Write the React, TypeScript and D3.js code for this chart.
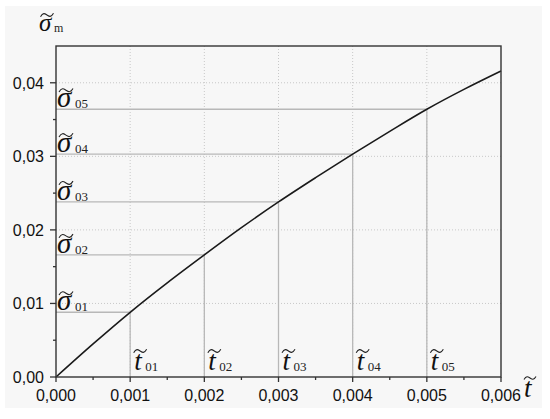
import React from "react";
import * as d3 from "d3";

const tValues = [0, 0.0005, 0.001, 0.0015, 0.002, 0.0025, 0.003, 0.0035, 0.004, 0.0045, 0.005, 0.0055, 0.006];
const sigmaValues = [0, 0.0045, 0.0088, 0.0128, 0.0166, 0.0203, 0.0238, 0.0271, 0.0303, 0.0334, 0.0364, 0.0391, 0.0416];
const refT = [0.001, 0.002, 0.003, 0.004, 0.005];
const refSigma = [0.0088, 0.0166, 0.0238, 0.0303, 0.0364];
const refSubs = ["01", "02", "03", "04", "05"];
const xTicks = [0, 0.001, 0.002, 0.003, 0.004, 0.005, 0.006];
const yTicks = [0, 0.01, 0.02, 0.03, 0.04];
const xMinor = [0.0005, 0.0015, 0.0025, 0.0035, 0.0045, 0.0055];
const yMinor = [0.005, 0.015, 0.025, 0.035];

const W = 550, H = 419;
const X0 = 56, X1 = 501, Y0 = 377, Y1 = 46;

const serif = "Liberation Serif";
const sans = "Liberation Sans";

function tilde(cx: number, cy: number, w: number) {
  const h = w * 0.16;
  const x0 = cx - w / 2;
  return `M${x0},${cy + h * 0.8} C${x0 + w * 0.2},${cy - h * 1.4} ${x0 + w * 0.35},${cy - h * 0.6} ${cx},${cy} S${x0 + w * 0.8},${cy + h * 1.4} ${x0 + w},${cy - h * 0.8}`;
}

function Sym({ x, y, ch, sub, size, subSize, tw, tx, ty, subDx }: { x: number; y: number; ch: string; sub: string; size: number; subSize: number; tw: number; tx: number; ty: number; subDx: number }) {
  return (
    <g>
      <text x={x} y={y} fontFamily={serif} fontStyle="italic" fontSize={size} fill="#111">{ch}</text>
      <path d={tilde(x + tx, y - ty, tw)} fill="none" stroke="#222" strokeWidth={1.1} />
      {sub ? <text x={x + subDx} y={y + 1} fontFamily={serif} fontSize={subSize} fill="#222">{sub}</text> : null}
    </g>
  );
}

export default function App() {
  const x = d3.scaleLinear().domain([0, 0.006]).range([X0, X1]);
  const y = d3.scaleLinear().domain([0, 0.045]).range([Y0, Y1]);
  const line = d3.line<number>().x((d, i) => x(tValues[i])).y((d) => y(d)).curve(d3.curveMonotoneX);
  const fmt = (v: number, p: number) => v.toFixed(p).replace(".", ",");

  return (
    <svg width={W} height={H} style={{ position: "absolute", left: 0, top: 0 }}>
      <rect x={0} y={0} width={W} height={H} fill="#ffffff" />
      <rect x={5} y={6} width={537} height={402} fill="#f7f7f7" />
      {xTicks.slice(1, -1).map((t) => (
        <line key={"gx" + t} x1={x(t)} x2={x(t)} y1={Y0} y2={Y1} stroke="#c8c8c8" strokeWidth={1} strokeDasharray="1,2" />
      ))}
      {yTicks.slice(1).map((t) => (
        <line key={"gy" + t} x1={X0} x2={X1} y1={y(t)} y2={y(t)} stroke="#c8c8c8" strokeWidth={1} strokeDasharray="1,2" />
      ))}
      {refT.map((t, i) => (
        <g key={"r" + i}>
          <line x1={X0} x2={x(t)} y1={y(refSigma[i])} y2={y(refSigma[i])} stroke="#b8b8b8" strokeWidth={1.3} />
          <line x1={x(t)} x2={x(t)} y1={y(refSigma[i])} y2={Y0} stroke="#b8b8b8" strokeWidth={1.3} />
        </g>
      ))}
      <path d={line(sigmaValues) || ""} fill="none" stroke="#1a1a1a" strokeWidth={1.6} />
      <rect x={X0} y={Y1} width={X1 - X0} height={Y0 - Y1} fill="none" stroke="#333" strokeWidth={1.4} />
      {xTicks.map((t) => (
        <g key={"xt" + t}>
          <line x1={x(t)} x2={x(t)} y1={Y0} y2={Y0 + 5} stroke="#333" strokeWidth={1.3} />
          <text x={x(t)} y={401} textAnchor="middle" fontFamily={sans} fontSize={16} fill="#111">{fmt(t, 3)}</text>
        </g>
      ))}
      {xMinor.map((t) => (
        <line key={"xm" + t} x1={x(t)} x2={x(t)} y1={Y0} y2={Y0 + 3} stroke="#333" strokeWidth={1.3} />
      ))}
      {yTicks.map((t) => (
        <g key={"yt" + t}>
          <line x1={X0 - 6} x2={X0} y1={y(t)} y2={y(t)} stroke="#333" strokeWidth={1.3} />
          <text x={44} y={y(t)} dy="0.36em" textAnchor="end" fontFamily={sans} fontSize={16} fill="#111">{fmt(t, 2)}</text>
        </g>
      ))}
      {yMinor.map((t) => (
        <line key={"ym" + t} x1={X0 - 3} x2={X0} y1={y(t)} y2={y(t)} stroke="#333" strokeWidth={1.3} />
      ))}
      {refSigma.map((s, i) => (
        <Sym key={"sl" + i} x={57} y={y(s) - 2} ch="σ" sub={refSubs[i]} size={29} subSize={13} tw={14} tx={9} ty={17} subDx={18} />
      ))}
      {refT.map((t, i) => (
        <Sym key={"tl" + i} x={x(t) + 4} y={370} ch="t" sub={refSubs[i]} size={27} subSize={13} tw={13} tx={6} ty={19} subDx={11} />
      ))}
      <Sym x={39} y={31} ch="σ" sub="m" size={25} subSize={12} tw={13} tx={8} ty={16} subDx={15} />
      <Sym x={524} y={397} ch="t" sub="" size={27} subSize={12} tw={12} tx={6} ty={19} subDx={10} />
    </svg>
  );
}
